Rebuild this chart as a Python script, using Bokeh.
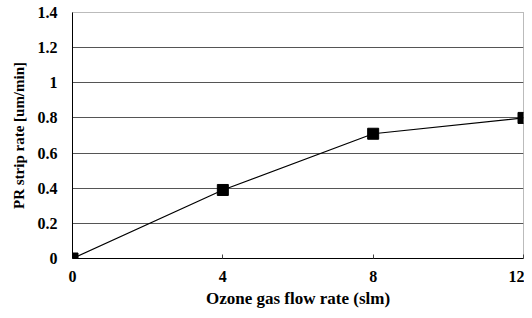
from bokeh.plotting import figure
from bokeh.models import Range1d, FixedTicker
from bokeh.embed import file_html
from bokeh.resources import INLINE

flow_rate = [0, 4, 8, 12]
strip_rate = [0.0, 0.39, 0.71, 0.80]
x_ticks = [0, 4, 8, 12]
y_ticks = [0, 0.2, 0.4, 0.6, 0.8, 1.0, 1.2, 1.4]
y_tick_labels = {0: "0", 0.2: "0.2", 0.4: "0.4", 0.6: "0.6", 0.8: "0.8", 1.0: "1", 1.2: "1.2", 1.4: "1.4"}

FONT = "Liberation Serif"

p = figure(width=524, height=310, output_backend="svg", toolbar_location=None,
           x_range=Range1d(0, 12), y_range=Range1d(0, 1.4),
           min_border_left=72, min_border_right=1, min_border_top=12, min_border_bottom=51)

p.outline_line_color = "#777777"
p.outline_line_dash = "1 1"
p.background_fill_color = "white"

p.xgrid.visible = False
p.ygrid.grid_line_color = "#555555"
p.ygrid.grid_line_width = 1

p.xaxis.ticker = FixedTicker(ticks=x_ticks)
p.yaxis.ticker = FixedTicker(ticks=y_ticks)
p.yaxis.major_label_overrides = y_tick_labels

for ax in (p.xaxis[0], p.yaxis[0]):
    ax.axis_line_color = "black"
    ax.axis_line_width = 1
    ax.minor_tick_line_color = None
    ax.major_label_text_font = FONT
    ax.major_label_text_font_style = "bold"
    ax.major_label_text_font_size = "16px"
    ax.major_label_text_color = "black"
    ax.axis_label_text_font = FONT
    ax.axis_label_text_font_style = "bold"
    ax.axis_label_text_color = "black"

p.xaxis.major_tick_in = 4
p.xaxis.major_tick_out = 0
p.xaxis.major_tick_line_color = "#444444"
p.xaxis.major_label_standoff = 12
p.xaxis.axis_label = "Ozone gas flow rate (slm)"
p.xaxis.axis_label_text_font_size = "17px"
p.xaxis.axis_label_standoff = 4

p.yaxis.major_tick_in = 0
p.yaxis.major_tick_out = 0
p.yaxis.major_label_standoff = 15
p.yaxis.axis_label = "PR strip rate [um/min]"
p.yaxis.axis_label_text_font_size = "15px"
p.yaxis.axis_label_standoff = 8

p.line(flow_rate, strip_rate, line_color="black", line_width=1.2)
p.scatter(flow_rate, strip_rate, marker="square", size=11, fill_color="black", line_color="black")

open("out.html", "w").write(file_html(p, INLINE))
